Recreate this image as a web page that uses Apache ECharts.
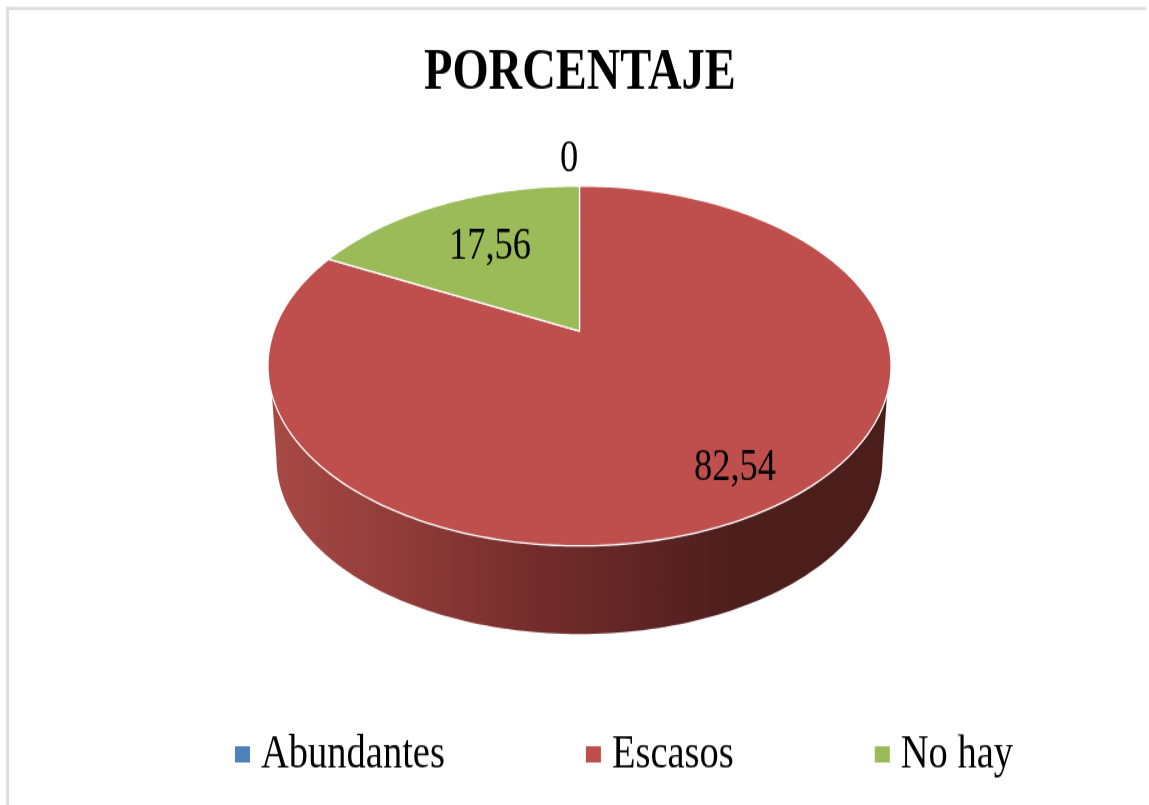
<!DOCTYPE html>
<html>
<head>
<meta charset="utf-8">
<style>
html,body{margin:0;padding:0;background:#fff;width:1149px;height:805px;overflow:hidden}
#chart{width:1149px;height:644px;transform:scaleY(1.25);transform-origin:0 0}
</style>
<script src="https://cdn.jsdelivr.net/npm/echarts@6/dist/echarts.min.js"></script>
</head>
<body>
<div id="chart"></div>
<script>
var categories = ['Abundantes', 'Escasos', 'No hay'];
var values = [0, 82.54, 17.56];
var colors = ['#4f81bd', '#be4f4c', '#9bbb59'];
var titleText = 'PORCENTAJE';

var S = 1.25;            // vertical stretch of the whole picture
var FONT = '"Liberation Serif", serif';
var labelAt = [[569, 159], [735, 468], [490, 246.5]];
var P = {cx: 579.5, cy: 366, R: 305.6, a: 180, b: -35, c: -0.194};
var LOW = {rx: 303, ry: 175, cy: 459};
var RIM = {rx: 311, ry: 180};
var total = values.reduce(function (s, v) { return s + v; }, 0);

function project(frac) {
  var th = 2 * Math.PI * frac, x = Math.sin(th), y = -Math.cos(th), d = 1 + P.c * y;
  return [P.cx + P.R * x / d, (P.cy + (P.a * y + P.b) / d) / S];
}
function apex() { return [P.cx, (P.cy + P.b) / S]; }

function wallPoints() {
  var pts = [], i, t;
  for (i = 0; i <= 120; i++) {
    t = (8.3 + (171.7 - 8.3) * i / 120) * Math.PI / 180;
    pts.push([P.cx + RIM.rx * Math.cos(t), (P.cy + RIM.ry * Math.sin(t)) / S]);
  }
  for (i = 120; i >= 0; i--) {
    t = Math.PI * i / 120;
    pts.push([P.cx + LOW.rx * Math.cos(t), (LOW.cy + LOW.ry * Math.sin(t)) / S]);
  }
  return pts;
}

function makeRender(idx) {
  return function (params, api) {
    var v = api.value(0), start = 0, i;
    for (i = 0; i < idx; i++) start += values[i];
    var f0 = start / total, f1 = (start + v) / total, children = [];
    if (f0 <= 0.5 && f1 >= 0.5 && v > 0) {
      children.push({
        type: 'polygon', shape: {points: wallPoints()},
        style: {fill: {type: 'linear', x: 0, y: 0, x2: 1, y2: 0, colorStops: [
          {offset: 0, color: '#a84a45'}, {offset: 0.22, color: '#8f3b38'},
          {offset: 0.44, color: '#722c2c'}, {offset: 0.76, color: '#4c1e1c'},
          {offset: 1, color: '#4b1e1c'}]}}
      });
    }
    if (v > 0) {
      var pts = [apex()], n = Math.max(2, Math.ceil(360 * (f1 - f0)));
      for (i = 0; i <= n; i++) pts.push(project(f0 + (f1 - f0) * i / n));
      children.push({type: 'polygon', shape: {points: pts},
        style: {fill: colors[idx], stroke: '#ffffff', lineWidth: 1.3, lineJoin: 'round'}});
    }
    children.push({
      type: 'text', z2: 10,
      style: {
        text: String(v).replace('.', ','), x: labelAt[idx][0], y: labelAt[idx][1] / S,
        align: 'center', verticalAlign: 'middle',
        font: '36.5px ' + FONT, fill: '#000000'
      }
    });
    return {type: 'group', children: children};
  };
}

var chart = echarts.init(document.getElementById('chart'));
chart.setOption({
  animation: false,
  backgroundColor: '#ffffff',
  title: {
    text: titleText, left: 424, top: 35, padding: 0,
    textStyle: {fontFamily: FONT, fontSize: 46.5, fontWeight: 'bold', color: '#000000'}
  },
  legend: {
    data: categories, left: 235, top: 584, padding: 0,
    itemWidth: 15, itemHeight: 13, itemGap: 141, icon: 'rect',
    textStyle: {fontFamily: FONT, fontSize: 38.5, color: '#000000', padding: [0, 0, 0, 6]}
  },
  graphic: [
    {type: 'rect', shape: {x: 6, y: 7 / S, width: 1140, height: 3 / S}, style: {fill: '#dedede'}, z: -1},
    {type: 'rect', shape: {x: 6, y: 7 / S, width: 3, height: 644}, style: {fill: '#dedede'}, z: -1}
  ],
  series: categories.map(function (name, i) {
    return {
      type: 'custom', name: name, coordinateSystem: 'none',
      itemStyle: {color: colors[i]},
      renderItem: makeRender(i), data: [[values[i]]], clip: false, silent: true
    };
  })
});
</script>
</body>
</html>
